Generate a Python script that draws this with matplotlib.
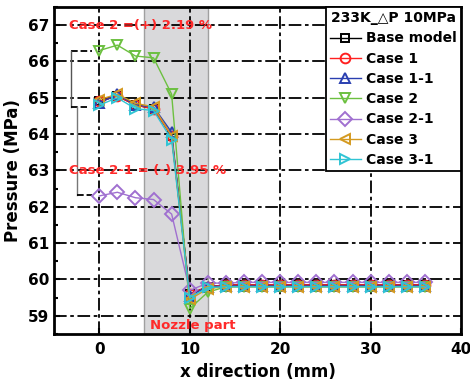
import matplotlib
matplotlib.use("Agg")
import matplotlib.pyplot as plt
from matplotlib.ticker import MultipleLocator

plt.rcParams['font.family'] = ['DejaVu Sans']
plt.rcParams['font.weight'] = 'bold'

x = [0, 2, 4, 6, 8, 10, 12, 14, 16, 18, 20, 22, 24, 26, 28, 30, 32, 34, 36]

base_model = [64.9, 65.05, 64.8, 64.7, 63.95, 59.6, 59.8, 59.85, 59.85, 59.85, 59.85, 59.85, 59.85, 59.85, 59.85, 59.85, 59.85, 59.85, 59.85]
case1 = [64.9, 65.05, 64.8, 64.7, 63.95, 59.6, 59.8, 59.85, 59.85, 59.85, 59.85, 59.85, 59.85, 59.85, 59.85, 59.85, 59.85, 59.85, 59.85]
case1_1 = [64.85, 65.1, 64.8, 64.75, 64.05, 59.55, 59.8, 59.82, 59.82, 59.82, 59.82, 59.82, 59.82, 59.82, 59.82, 59.82, 59.82, 59.82, 59.82]
case2 = [66.3, 66.45, 66.15, 66.1, 65.1, 59.2, 59.65, 59.8, 59.8, 59.8, 59.8, 59.8, 59.8, 59.8, 59.8, 59.8, 59.8, 59.8, 59.8]
case2_1 = [62.3, 62.4, 62.25, 62.2, 61.8, 59.7, 59.9, 59.9, 59.92, 59.92, 59.92, 59.92, 59.92, 59.92, 59.92, 59.92, 59.92, 59.92, 59.92]
case3 = [64.95, 65.1, 64.85, 64.75, 63.95, 59.45, 59.75, 59.8, 59.8, 59.8, 59.8, 59.8, 59.8, 59.8, 59.8, 59.8, 59.8, 59.8, 59.8]
case3_1 = [64.8, 65.0, 64.7, 64.65, 63.85, 59.5, 59.78, 59.8, 59.8, 59.8, 59.8, 59.8, 59.8, 59.8, 59.8, 59.8, 59.8, 59.8, 59.8]

labels = ['Base model', 'Case 1', 'Case 1-1', 'Case 2', 'Case 2-1', 'Case 3', 'Case 3-1']
series = [base_model, case1, case1_1, case2, case2_1, case3, case3_1]
colors = ['#000000', '#ff2020', '#2a3fb0', '#6cc040', '#a070d0', '#d49a20', '#30c4d4']
markers = ['s', 'o', '^', 'v', 'D', '<', '>']
msizes = [6, 7, 7.5, 7.5, 7, 7.5, 7.5]

fig = plt.figure(figsize=(4.7, 3.87), dpi=100)
ax = fig.add_axes([0.115, 0.137, 0.866, 0.845])

ax.axvspan(5, 12, facecolor='#d9d9db', edgecolor='#a0a0a0', linewidth=1, zorder=0)

for xv in [0, 10, 20, 30]:
    ax.axvline(xv, color='black', lw=1.3, ls=(0, (7, 2, 2, 2)), zorder=1)
for yv in range(59, 68):
    ax.axhline(yv, color='black', lw=1.3, ls=(0, (7, 2, 2, 2)), zorder=1)

for ys, lab, c, m, ms in zip(series, labels, colors, markers, msizes):
    ax.plot(x, ys, color=c, marker=m, markersize=ms, markerfacecolor='none',
            markeredgewidth=1.4, linewidth=1.0, label=lab, zorder=3)

# brackets
ax.plot([-3.1, -0.8], [66.28, 66.28], color='black', ls='--', lw=1.3, zorder=2)
ax.plot([-3.1, -3.1], [66.28, 64.76], color='#555555', lw=1.0, zorder=2)
ax.plot([-3.1, -1.4], [64.76, 64.76], color='black', ls='--', lw=1.3, zorder=2)
ax.plot([-2.5, -2.5], [64.76, 62.33], color='#777777', lw=1.0, zorder=2)
ax.plot([-2.5, -0.8], [62.33, 62.33], color='black', ls='--', lw=1.3, zorder=2)

ax.text(-3.3, 67.0, 'Case 2 =(+) 2.19 %', color='#ff2a2a', fontsize=9.5, fontweight='bold',
        va='center', ha='left', zorder=4)
ax.text(-3.3, 63.0, 'Case 2-1 = (-) 3.95 %', color='#ff2a2a', fontsize=9.5, fontweight='bold',
        va='center', ha='left', zorder=4)
ax.text(5.6, 58.72, 'Nozzle part', color='#ff2a2a', fontsize=9.5, fontweight='bold',
        va='center', ha='left', zorder=4)

ax.set_xlim(-5, 40)
ax.set_ylim(58.5, 67.5)
ax.set_xticks([0, 10, 20, 30, 40])
ax.set_yticks(range(59, 68))
ax.yaxis.set_minor_locator(MultipleLocator(0.5))
ax.tick_params(axis='both', which='major', direction='in', length=4, width=1.5, labelsize=11)
ax.tick_params(axis='y', which='minor', direction='in', length=3, width=1.5)
for lab in ax.get_xticklabels() + ax.get_yticklabels():
    lab.set_fontweight('bold')
ax.tick_params(axis='x', pad=6)

for sp in ax.spines.values():
    sp.set_linewidth(2)

ax.set_xlabel('x direction (mm)', fontsize=12, fontweight='bold', labelpad=4)
ax.set_ylabel('Pressure (MPa)', fontsize=12, fontweight='bold', labelpad=4)

leg = ax.legend(loc='upper right', bbox_to_anchor=(1.0, 1.0), borderaxespad=0,
                title='233K_\u25b3P 10MPa', fancybox=False, edgecolor='black',
                framealpha=1, prop={'size': 10, 'weight': 'bold'},
                handlelength=2.2, handletextpad=0.4, labelspacing=0.45,
                borderpad=0.3)
leg.get_title().set_fontweight('bold')
leg.get_title().set_fontsize(10)
leg.get_frame().set_linewidth(1.3)

fig.savefig('out.png', dpi=100)
